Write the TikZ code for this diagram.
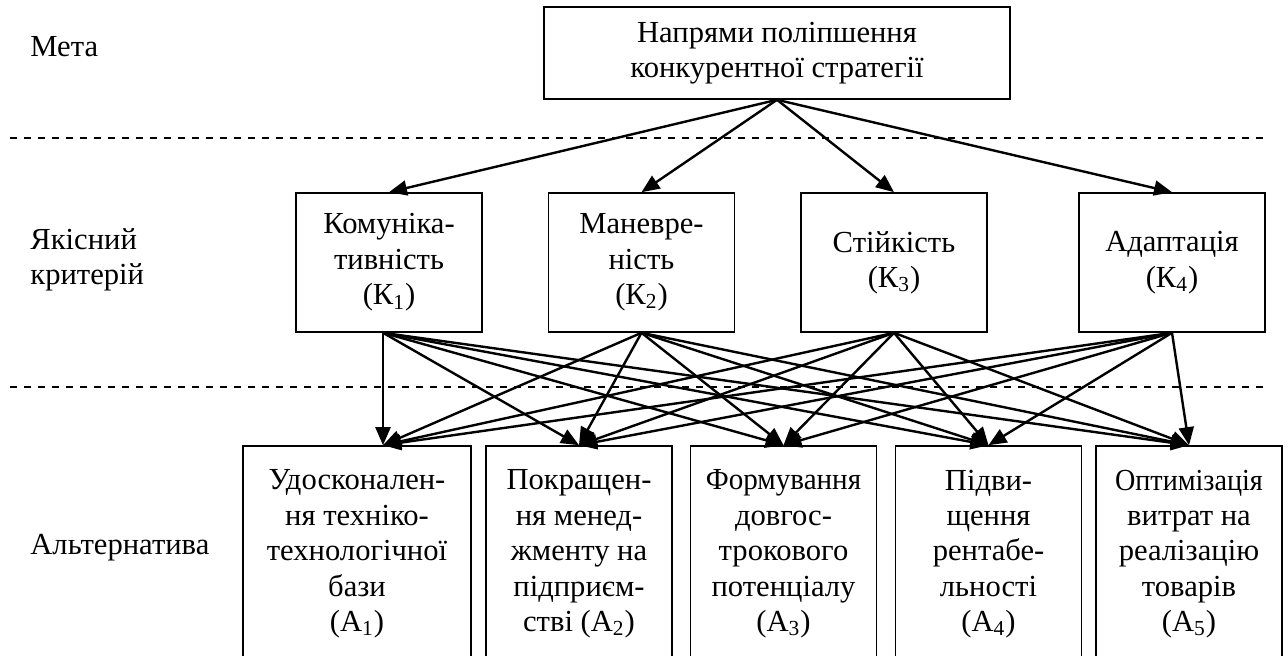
\documentclass[tikz,border=0pt]{standalone}
\usepackage{fontspec}
\setmainfont{Liberation Serif}
\usepackage{graphicx}
\usetikzlibrary{arrows.meta}

\tikzset{
  goalbox/.style={draw, line width=0.8pt, align=center, inner sep=0pt,
    minimum width=233pt, minimum height=46pt},
  critbox/.style={draw, line width=0.8pt, align=center, inner sep=0pt,
    minimum width=93pt, minimum height=69.5pt},
  altbox/.style={draw, line width=0.8pt, align=center, inner sep=0pt,
    minimum width=93pt, minimum height=108pt},
  arr/.style={line width=1.2pt, -{Triangle[length=9pt,width=7.5pt]}},
  sepline/.style={line width=0.6pt, dash pattern=on 3.5pt off 3.5pt},
  lbl/.style={anchor=west, align=left, inner sep=0pt},
}

\begin{document}
\begin{tikzpicture}[x=0.5pt,y=-0.5pt,font=\fontsize{15.3}{17.7}\selectfont]
				\useasboundingbox (0,0) rectangle (1288,656);
				\clip (0,0) rectangle (1288,656);
				% levels
				\draw [sepline] (10,138) -- (1263,138);
				\draw [sepline] (10,387) -- (1263,387);
				\node [lbl] (meta) at (30,47) {Мета};
				\node [lbl] (crit) at (30,260) {Якісний\\критерій};
				\node [lbl] (alt) at (30,548) {Альтернатива};
				% goal
				\node [goalbox] (goal) at (777,53) {Напрями поліпшення\\конкурентної стратегії};
				% criteria
				\node [critbox] (k1) at (389,262.5) {Комуніка-\\тивність\\(К\textsubscript{1})};
				\node [critbox] (k2) at (641.5,262.5) {Маневре-\\ність\\(К\textsubscript{2})};
				\node [critbox] (k3) at (894,262.5) {Стійкість\\(К\textsubscript{3})};
				\node [critbox] (k4) at (1172,262.5) {Адаптація\\(К\textsubscript{4})};
				% alternatives
				\node [altbox, minimum width=114pt] (a1) at (357,554) {Удосконален-\\ня техніко-\\технологічної\\бази\\(А\textsubscript{1})};
				\node [altbox] (a2) at (579,554) {Покращен-\\ня менед-\\жменту на\\підприєм-\\стві (А\textsubscript{2})};
				\node [altbox] (a3) at (783.5,554) {\scalebox{0.95}[1]{Формування}\\довгос-\\трокового\\потенціалу\\(А\textsubscript{3})};
				\node [altbox] (a4) at (988.5,554) {Підви-\\щення\\рентабе-\\льності\\(А\textsubscript{4})};
				\node [altbox] (a5) at (1189,554) {\scalebox{0.92}[1]{Оптимізація}\\витрат на\\реалізацію\\товарів\\(А\textsubscript{5})};
				\coordinate (k1out) at ([xshift=-3pt]k1.south);
				\coordinate (a1in) at (k1out |- a1.north);
				% goal to criteria
				\draw [arr] (goal.south) -- (k1.north);
				\draw [arr] (goal.south) -- (k2.north);
				\draw [arr] (goal.south) -- (k3.north);
				\draw [arr] (goal.south) -- (k4.north);
				% criteria to alternatives
				\draw [arr] (k1out) -- (a1in);
				\draw [arr] (k1out) -- (a2.north);
				\draw [arr] (k1out) -- (a3.north);
				\draw [arr] (k1out) -- (a4.north);
				\draw [arr] (k1out) -- (a5.north);
				\draw [arr] (k2.south) -- (a1in);
				\draw [arr] (k2.south) -- (a2.north);
				\draw [arr] (k2.south) -- (a3.north);
				\draw [arr] (k2.south) -- (a4.north);
				\draw [arr] (k2.south) -- (a5.north);
				\draw [arr] (k3.south) -- (a1in);
				\draw [arr] (k3.south) -- (a2.north);
				\draw [arr] (k3.south) -- (a3.north);
				\draw [arr] (k3.south) -- (a4.north);
				\draw [arr] (k3.south) -- (a5.north);
				\draw [arr] (k4.south) -- (a1in);
				\draw [arr] (k4.south) -- (a2.north);
				\draw [arr] (k4.south) -- (a3.north);
				\draw [arr] (k4.south) -- (a4.north);
				\draw [arr] (k4.south) -- (a5.north);
			\end{tikzpicture}
\end{document}
